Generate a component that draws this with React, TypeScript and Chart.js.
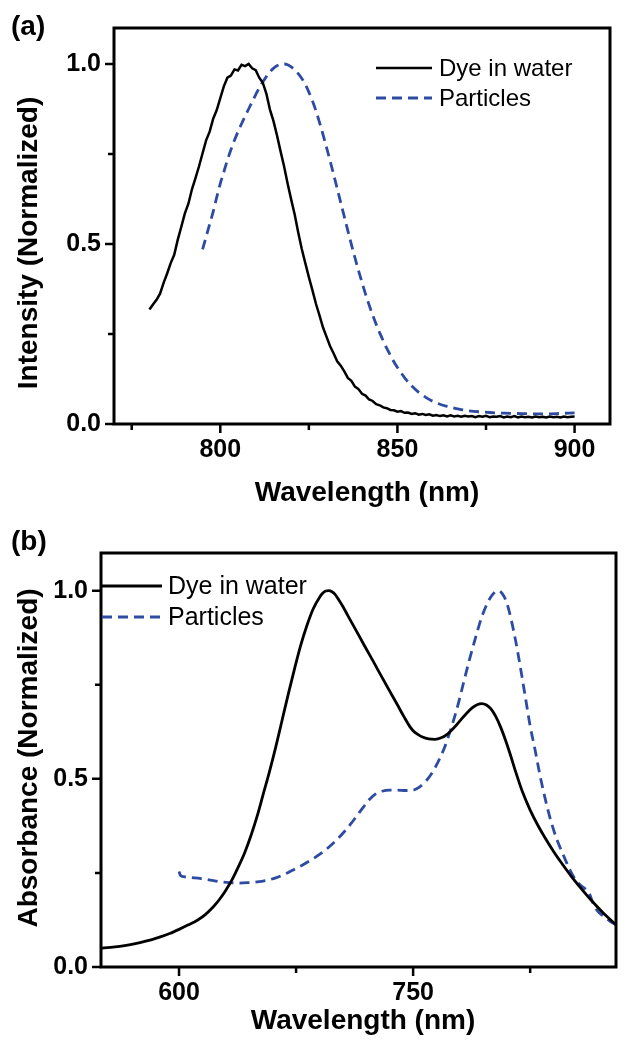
import React, { useEffect, useRef } from 'react';
import { Chart, registerables } from 'chart.js';

Chart.register(...registerables);

const FONT = '"Liberation Sans", Arial, Helvetica, sans-serif';
const BLUE = '#2d4ba3';

// ---------- Panel (a): emission ----------
const emDyeX = [
  780, 781, 782, 783, 784, 785, 786, 787, 788, 789, 790, 791, 792, 793, 794, 795, 796, 797, 798, 799,
  800, 801, 802, 803, 804, 805, 806, 807, 808, 809, 810, 811, 812, 813, 814, 815, 816, 817, 818, 819,
  820, 821, 822, 823, 824, 825, 826, 827, 828, 829, 830, 831, 832, 833, 834, 835, 836, 837, 838, 839,
  840, 841, 842, 843, 844, 845, 846, 847, 848, 849, 850, 851, 852, 853, 854, 855, 856, 857, 858, 859,
  860, 861, 862, 863, 864, 865, 866, 867, 868, 869, 870, 871, 872, 873, 874, 875, 876, 877, 878, 879,
  880, 881, 882, 883, 884, 885, 886, 887, 888, 889, 890, 891, 892, 893, 894, 895, 896, 897, 898, 899, 900,
];
const emDyeY = [
  0.318, 0.332, 0.345, 0.362, 0.392, 0.418, 0.447, 0.470, 0.512, 0.548, 0.585, 0.612, 0.652, 0.683, 0.716, 0.752, 0.788, 0.812, 0.848, 0.872,
  0.905, 0.938, 0.962, 0.968, 0.985, 0.982, 0.998, 0.994, 1.0, 0.988, 0.983, 0.962, 0.948, 0.918, 0.874, 0.842, 0.802, 0.758, 0.716, 0.668,
  0.624, 0.582, 0.532, 0.486, 0.447, 0.408, 0.372, 0.334, 0.302, 0.268, 0.242, 0.216, 0.196, 0.174, 0.162, 0.146, 0.128, 0.120, 0.104, 0.097,
  0.084, 0.079, 0.068, 0.064, 0.055, 0.052, 0.046, 0.044, 0.039, 0.038, 0.034, 0.036, 0.031, 0.032, 0.028, 0.030, 0.026, 0.028, 0.025, 0.027,
  0.023, 0.025, 0.022, 0.024, 0.021, 0.024, 0.021, 0.023, 0.020, 0.023, 0.021, 0.022, 0.019, 0.022, 0.020, 0.023, 0.019, 0.021, 0.020, 0.022,
  0.018, 0.021, 0.019, 0.022, 0.018, 0.021, 0.019, 0.020, 0.018, 0.021, 0.019, 0.020, 0.018, 0.021, 0.019, 0.020, 0.018, 0.021, 0.019, 0.020, 0.021,
];
const emPartX = [
  795, 796, 797, 798, 799, 800, 801, 802, 803, 804, 805, 806, 807, 808, 809, 810, 811, 812, 813, 814,
  815, 816, 817, 818, 819, 820, 821, 822, 823, 824, 825, 826, 827, 828, 829, 830, 831, 832, 833, 834,
  835, 836, 837, 838, 839, 840, 841, 842, 843, 844, 845, 846, 847, 848, 849, 850, 852, 854, 856, 858,
  860, 862, 864, 866, 868, 870, 873, 876, 880, 885, 890, 895, 900,
];
const emPartY = [
  0.485, 0.52, 0.555, 0.59, 0.63, 0.668, 0.70, 0.733, 0.762, 0.788, 0.812, 0.834, 0.855, 0.875, 0.895, 0.915, 0.934, 0.95, 0.965, 0.978,
  0.988, 0.995, 0.999, 1.0, 0.998, 0.992, 0.984, 0.973, 0.96, 0.943, 0.922, 0.898, 0.87, 0.838, 0.804, 0.768, 0.731, 0.693, 0.654, 0.615,
  0.576, 0.537, 0.499, 0.462, 0.427, 0.393, 0.361, 0.331, 0.303, 0.277, 0.253, 0.231, 0.21, 0.191, 0.173, 0.157, 0.129, 0.106, 0.088, 0.074,
  0.063, 0.055, 0.049, 0.044, 0.04, 0.037, 0.034, 0.032, 0.03, 0.029, 0.028, 0.029, 0.031,
];
const emXTicks = [775, 800, 825, 850, 875, 900];
const emXLabels = [800, 850, 900];

// ---------- Panel (b): absorbance ----------
const absDyeX = [
  550, 556, 562, 568, 575, 582, 588, 594, 600, 606, 612, 617, 622, 626, 630, 634, 638, 642, 646, 650,
  654, 658, 662, 666, 670, 674, 678, 682, 686, 690, 692, 694, 696, 698, 700, 702, 705, 708, 712, 716,
  720, 725, 730, 735, 740, 744, 748, 750, 753, 756, 760, 764, 768, 772, 776, 780, 784, 788, 791, 794,
  797, 800, 803, 806, 809, 812, 816, 820, 825, 830, 835, 840, 845, 851, 858, 864, 872, 880,
];
const absDyeY = [
  0.050, 0.052, 0.055, 0.059, 0.065, 0.072, 0.080, 0.089, 0.100, 0.112, 0.125, 0.140, 0.160, 0.180, 0.204, 0.232, 0.266, 0.303, 0.348, 0.400,
  0.460, 0.520, 0.585, 0.655, 0.725, 0.792, 0.855, 0.908, 0.952, 0.982, 0.993, 0.999, 1.0, 0.997, 0.990, 0.978, 0.958, 0.935, 0.905, 0.875,
  0.845, 0.808, 0.770, 0.733, 0.696, 0.666, 0.638, 0.628, 0.618, 0.611, 0.606, 0.605, 0.609, 0.619, 0.635, 0.654, 0.673, 0.689, 0.697, 0.700,
  0.696, 0.685, 0.665, 0.638, 0.605, 0.568, 0.515, 0.466, 0.417, 0.376, 0.340, 0.307, 0.277, 0.243, 0.207, 0.178, 0.143, 0.112,
];
const absPartX = [
  600, 601, 603, 607, 614, 620, 626, 632, 638, 644, 650, 656, 662, 668, 674, 680, 686, 692, 697, 702,
  706, 710, 714, 718, 722, 726, 730, 735, 740, 745, 750, 754, 758, 762, 766, 770, 774, 778, 782, 786,
  790, 794, 798, 801, 804, 807, 810, 813, 816, 819, 822, 825, 828, 831, 834, 838, 842, 846, 850, 854,
  858, 861, 863, 865, 868, 872, 876, 880,
];
const absPartY = [
  0.254, 0.243, 0.240, 0.238, 0.235, 0.231, 0.227, 0.224, 0.223, 0.224, 0.226, 0.230, 0.237, 0.247, 0.260, 0.273, 0.288, 0.305, 0.322, 0.342,
  0.360, 0.380, 0.402, 0.424, 0.445, 0.460, 0.467, 0.470, 0.470, 0.469, 0.470, 0.478, 0.493, 0.515, 0.545, 0.582, 0.630, 0.685, 0.750, 0.815,
  0.875, 0.930, 0.970, 0.990, 1.0, 0.993, 0.968, 0.920, 0.860, 0.790, 0.715, 0.640, 0.580, 0.515, 0.458, 0.392, 0.340, 0.300, 0.262, 0.232,
  0.215, 0.205, 0.195, 0.172, 0.150, 0.135, 0.122, 0.112,
];
const absXTicks = [600, 675, 750, 825];
const absXLabels = [600, 750];

const yTicks = [0, 0.25, 0.5, 0.75, 1.0];
const yLabels = [0, 0.5, 1.0];

const seriesNames = ['Dye in water', 'Particles'];

const toPoints = (xs: number[], ys: number[]) => xs.map((x, i) => ({ x, y: ys[i] }));

const decorPlugin = {
  id: 'decor',
  afterDraw(chart: any, _args: any, opts: any) {
    const { ctx, chartArea: a, scales } = chart;
    ctx.save();
    // frame
    ctx.strokeStyle = '#000';
    ctx.lineWidth = 3;
    ctx.setLineDash([]);
    ctx.strokeRect(a.left, a.top, a.right - a.left, a.bottom - a.top);
    // ticks
    ctx.lineWidth = 2.5;
    ctx.beginPath();
    for (const t of scales.x.ticks) {
      const px = scales.x.getPixelForValue(t.value);
      const len = opts.xMajor.includes(t.value) ? 9 : 6;
      ctx.moveTo(px, a.bottom);
      ctx.lineTo(px, a.bottom + len);
    }
    for (const t of scales.y.ticks) {
      const py = scales.y.getPixelForValue(t.value);
      const len = yLabels.includes(t.value) ? 9 : 6;
      ctx.moveTo(a.left, py);
      ctx.lineTo(a.left - len, py);
    }
    ctx.stroke();
    // legend
    const lg = opts.legend;
    chart.data.datasets.forEach((ds: any, i: number) => {
      const y = lg.rows[i];
      ctx.beginPath();
      ctx.setLineDash(ds.borderDash || []);
      ctx.strokeStyle = ds.borderColor;
      ctx.lineWidth = ds.borderWidth;
      ctx.moveTo(lg.x0, y);
      ctx.lineTo(lg.x1, y);
      ctx.stroke();
      ctx.setLineDash([]);
      ctx.fillStyle = '#000';
      ctx.font = `${lg.size}px ${FONT}`;
      ctx.textAlign = 'left';
      ctx.textBaseline = 'middle';
      ctx.fillText(ds.label, lg.textX, y + 1);
    });
    // axis titles
    ctx.fillStyle = '#000';
    ctx.font = `bold ${opts.titleSize}px ${FONT}`;
    ctx.textAlign = 'center';
    ctx.textBaseline = 'middle';
    ctx.fillText(opts.xTitle.text, opts.xTitle.x, opts.xTitle.y);
    ctx.save();
    ctx.translate(opts.yTitle.x, opts.yTitle.y);
    ctx.rotate(-Math.PI / 2);
    ctx.fillText(opts.yTitle.text, 0, 0);
    ctx.restore();
    // panel label
    ctx.font = `bold ${opts.panel.size}px ${FONT}`;
    ctx.textAlign = 'left';
    ctx.fillText(opts.panel.text, opts.panel.x, opts.panel.y);
    ctx.restore();
  },
};

function makeConfig(p: any) {
  return {
    type: 'line',
    data: {
      datasets: [
        {
          label: seriesNames[0],
          data: p.dye,
          borderColor: '#000',
          borderWidth: p.dyeWidth,
          pointRadius: 0,
          tension: 0,
          cubicInterpolationMode: p.smooth ? 'monotone' : 'default',
        },
        {
          label: seriesNames[1],
          data: p.part,
          borderColor: BLUE,
          borderWidth: 2.8,
          borderDash: [10, 6],
          pointRadius: 0,
          tension: 0,
          cubicInterpolationMode: 'monotone',
        },
      ],
    },
    options: {
      animation: false,
      responsive: false,
      maintainAspectRatio: false,
      events: [],
      layout: { padding: { top: p.padTop, right: p.padRight, left: 0, bottom: 0 } },
      plugins: {
        legend: { display: false },
        tooltip: { enabled: false },
        decor: {
          xMajor: p.xLabels,
          legend: p.legend,
          titleSize: 28,
          xTitle: p.xTitle,
          yTitle: p.yTitle,
          panel: p.panel,
        },
      },
      scales: {
        x: {
          type: 'linear',
          min: p.xMin,
          max: p.xMax,
          afterBuildTicks: (s: any) => {
            s.ticks = p.xTicks.map((v: number) => ({ value: v }));
          },
          afterFit: (s: any) => {
            s.height = p.xAxisH;
          },
          grid: { display: false, drawTicks: false },
          border: { display: false },
          ticks: {
            autoSkip: false,
            maxRotation: 0,
            padding: 11,
            color: '#000',
            font: { family: FONT, size: 25, weight: 'bold' },
            callback: (v: number) => (p.xLabels.includes(v) ? String(v) : ''),
          },
        },
        y: {
          type: 'linear',
          min: 0,
          max: 1.1,
          afterBuildTicks: (s: any) => {
            s.ticks = yTicks.map((v) => ({ value: v }));
          },
          afterFit: (s: any) => {
            s.width = p.yAxisW;
          },
          grid: { display: false, drawTicks: false },
          border: { display: false },
          ticks: {
            autoSkip: false,
            padding: 13,
            color: '#000',
            font: { family: FONT, size: 25, weight: 'bold' },
            callback: (v: number) => (yLabels.includes(v) ? v.toFixed(1) : ''),
          },
        },
      },
    },
    plugins: [decorPlugin],
  };
}

const panelA = {
  dye: toPoints(emDyeX, emDyeY),
  part: toPoints(emPartX, emPartY),
  smooth: false,
  dyeWidth: 2.5,
  xMin: 770,
  xMax: 910,
  xTicks: emXTicks,
  xLabels: emXLabels,
  padTop: 26,
  padRight: 19,
  xAxisH: 91,
  yAxisW: 114,
  legend: { x0: 376, x1: 432, textX: 439, rows: [68, 98], size: 24 },
  xTitle: { text: 'Wavelength (nm)', x: 367, y: 493 },
  yTitle: { text: 'Intensity (Normalized)', x: 29, y: 243 },
  panel: { text: '(a)', x: 11, y: 27, size: 28 },
};

const panelB = {
  dye: toPoints(absDyeX, absDyeY),
  part: toPoints(absPartX, absPartY),
  smooth: true,
  dyeWidth: 2.8,
  xMin: 550,
  xMax: 880,
  xTicks: absXTicks,
  xLabels: absXLabels,
  padTop: 38,
  padRight: 13,
  xAxisH: 83,
  yAxisW: 101,
  legend: { x0: 102, x1: 162, textX: 168, rows: [71, 102], size: 25 },
  xTitle: { text: 'Wavelength (nm)', x: 363, y: 506 },
  yTitle: { text: 'Absorbance (Normalized)', x: 29, y: 243 },
  panel: { text: '(b)', x: 11, y: 27, size: 28 },
};

function Panel({ params, width, height }: { params: any; width: number; height: number }) {
  const ref = useRef<HTMLCanvasElement>(null);
  useEffect(() => {
    const chart = new Chart(ref.current as HTMLCanvasElement, makeConfig(params) as any);
    return () => chart.destroy();
  }, [params]);
  return <canvas ref={ref} width={width} height={height} style={{ display: 'block', width, height }} />;
}

export default function App() {
  return (
    <div style={{ position: 'absolute', left: 0, top: 0, width: 629, height: 1050, background: '#fff' }}>
      <Panel params={panelA} width={629} height={515} />
      <Panel params={panelB} width={629} height={535} />
    </div>
  );
}
